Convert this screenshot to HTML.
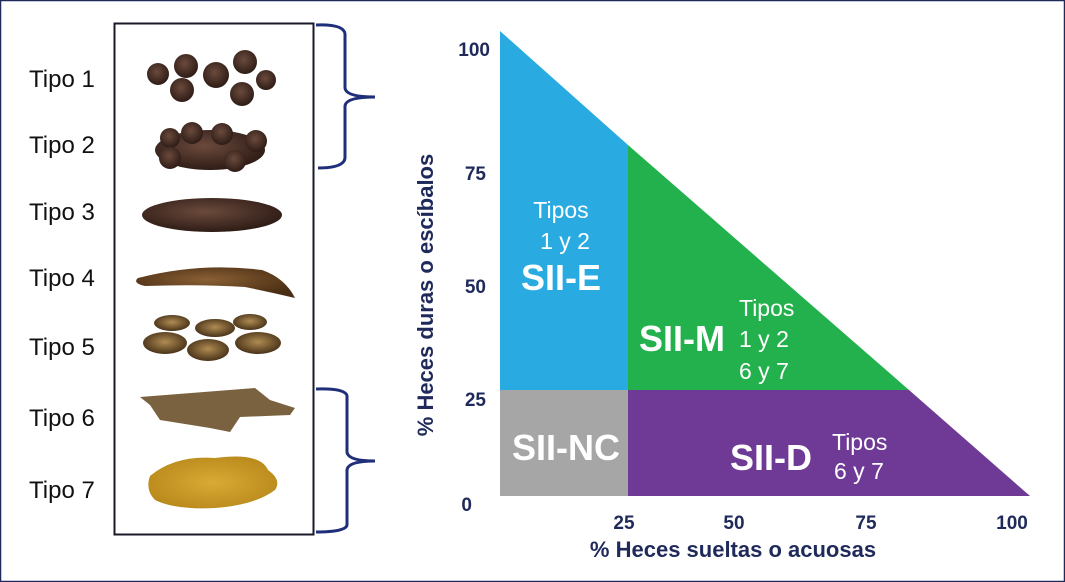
<!DOCTYPE html>
<html><head><meta charset="utf-8"><style>
body{margin:0;background:#fff}
svg{display:block}
text{font-family:"Liberation Sans",Arial,sans-serif}
</style></head><body>
<svg width="1065" height="582" viewBox="0 0 1065 582" xmlns="http://www.w3.org/2000/svg">
<defs>
<radialGradient id="dk" cx="45%" cy="40%" r="60%"><stop offset="0" stop-color="#6b4a3c"/><stop offset="1" stop-color="#2e1c16"/></radialGradient>
<radialGradient id="br" cx="45%" cy="40%" r="60%"><stop offset="0" stop-color="#8a6034"/><stop offset="1" stop-color="#4a2e14"/></radialGradient>
<radialGradient id="fl" cx="50%" cy="45%" r="60%"><stop offset="0" stop-color="#b08c52"/><stop offset="1" stop-color="#3f2a14"/></radialGradient>
<radialGradient id="y7" cx="50%" cy="50%" r="60%"><stop offset="0" stop-color="#d9aa34"/><stop offset="1" stop-color="#b7871a"/></radialGradient>
</defs>
<rect x="0.5" y="0.5" width="1064" height="581" fill="#fff" stroke="#1f2a5a" stroke-width="1.5"/>
<rect x="114.5" y="23.5" width="199" height="511" fill="#fff" stroke="#1a1a2a" stroke-width="2"/>
<g font-size="24" fill="#111">
<text x="29" y="87">Tipo 1</text><text x="29" y="153">Tipo 2</text><text x="29" y="220">Tipo 3</text>
<text x="29" y="286">Tipo 4</text><text x="29" y="355">Tipo 5</text><text x="29" y="426">Tipo 6</text><text x="29" y="498">Tipo 7</text>
</g>
<g fill="url(#dk)">
<circle cx="158" cy="74" r="11"/><circle cx="186" cy="66" r="12"/><circle cx="216" cy="75" r="13"/><circle cx="245" cy="62" r="12"/>
<circle cx="266" cy="80" r="10"/><circle cx="182" cy="90" r="12"/><circle cx="242" cy="94" r="12"/>
</g>
<g fill="url(#dk)">
<ellipse cx="210" cy="150" rx="55" ry="20"/><circle cx="170" cy="138" r="10"/><circle cx="192" cy="133" r="11"/><circle cx="222" cy="134" r="11"/><circle cx="256" cy="141" r="11"/><circle cx="170" cy="158" r="11"/><circle cx="235" cy="161" r="11"/>
</g>
<ellipse cx="212" cy="215" rx="70" ry="17" fill="url(#dk)"/>
<path d="M138 278 Q200 262 262 270 Q285 278 295 298 Q270 292 245 287 Q200 284 145 286 Q132 283 138 278Z" fill="url(#br)"/>
<g fill="url(#fl)">
<ellipse cx="172" cy="323" rx="18" ry="8"/><ellipse cx="215" cy="328" rx="20" ry="9"/><ellipse cx="250" cy="322" rx="17" ry="8"/>
<ellipse cx="165" cy="343" rx="22" ry="11"/><ellipse cx="208" cy="350" rx="21" ry="11"/><ellipse cx="258" cy="343" rx="23" ry="11"/>
</g>
<g fill="#7a6240">
<path d="M140 397 L255 388 L270 400 L295 408 L290 415 L240 417 L230 432 L210 428 L160 420 L150 405Z"/>
</g>
<path d="M150 476 Q175 455 215 458 Q260 452 268 470 Q282 480 275 490 Q255 505 215 508 Q175 510 155 500 Q145 490 150 476Z" fill="url(#y7)"/>
<g fill="none" stroke="#1f2f7a" stroke-width="3">
<path d="M316 25 Q344 24 345 34 L345 88 Q346 97 375 97 Q346 97 345 106 L345 158 Q344 168 318 168"/>
<path d="M316 389 Q346 388 347 396 L347 452 Q348 461 375 461 Q348 461 347 470 L347 525 Q346 532 316 532"/>
</g>
<path d="M500 31 L628 145 L628 390 L500 390Z" fill="#29abe2"/>
<path d="M628 145 L909 390 L628 390Z" fill="#22b14c"/>
<rect x="500" y="390" width="128" height="106" fill="#a6a6a6"/>
<path d="M628 390 L909 390 L1030 496 L628 496Z" fill="#6f3996"/>
<g fill="#fff" text-anchor="middle">
<text x="561" y="218" font-size="23">Tipos</text>
<text x="565" y="249" font-size="23">1 y 2</text>
<text x="561" y="290" font-size="36" font-weight="bold">SII-E</text>
<text x="682" y="351" font-size="36" font-weight="bold">SII-M</text>
<text x="566" y="460" font-size="36" font-weight="bold">SII-NC</text>
<text x="771" y="470" font-size="36" font-weight="bold">SII-D</text>
</g>
<g fill="#fff" font-size="23">
<text x="739" y="316">Tipos</text><text x="739" y="347">1 y 2</text><text x="739" y="379">6 y 7</text>
<text x="832" y="450">Tipos</text><text x="834" y="479">6 y 7</text>
</g>
<g fill="#1f2a5a" font-size="19" font-weight="bold">
<g text-anchor="end">
<text x="490" y="56">100</text><text x="486" y="180">75</text><text x="486" y="293">50</text><text x="486" y="406">25</text><text x="472" y="511">0</text>
</g>
<g text-anchor="middle">
<text x="624" y="529">25</text><text x="734" y="529">50</text><text x="866" y="529">75</text><text x="1012" y="529">100</text>
</g>
<text x="733" y="557" text-anchor="middle" font-size="22">% Heces sueltas o acuosas</text>
<text transform="translate(433,295) rotate(-90)" text-anchor="middle" font-size="22">% Heces duras o escíbalos</text>
</g>
</svg>
</body></html>
